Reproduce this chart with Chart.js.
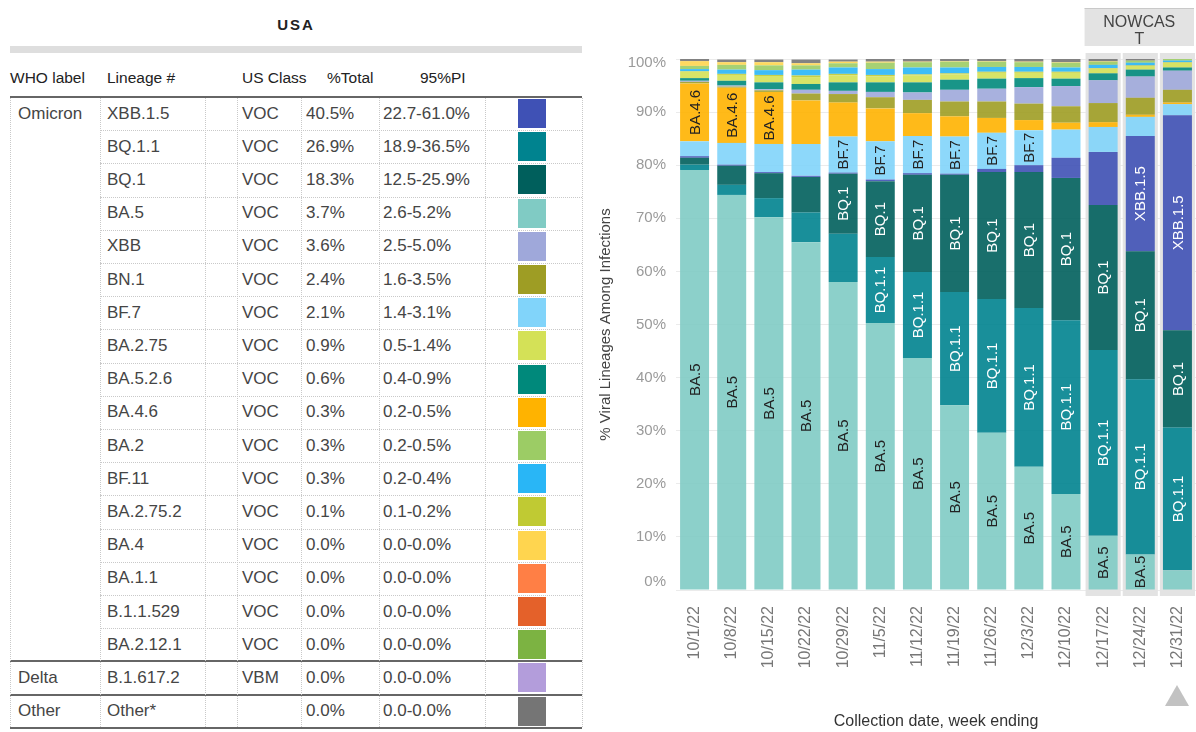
<!DOCTYPE html>
<html>
<head>
<meta charset="utf-8">
<script src="https://cdn.jsdelivr.net/npm/chart.js@4.4.1/dist/chart.umd.min.js"></script>
<style>
  body { margin: 0; background: #fff; font-family: "Liberation Sans", Arial, sans-serif; }
  #pagina { position: relative; width: 1196px; height: 732px; overflow: hidden; }
  #tabla { position: absolute; left: 0; top: 0; width: 590px; height: 732px; }
  #grafico { position: absolute; left: 590px; top: 0; }
  .t { position: absolute; white-space: nowrap; line-height: 20px; margin-top: -10px; color: #454545; font-size: 17px; }
  .h { color: #222; font-size: 15.5px; }
  .lh { position: absolute; height: 0; border-top: 1px dotted #c9c9c9; }
  .lv { position: absolute; width: 0; border-left: 1px dotted #c9c9c9; }
  .gruesa { position: absolute; height: 2px; background: #666; }
  .muestra { position: absolute; width: 28px; height: 29px; }
  #triangulo { position: absolute; left: 1165px; top: 685px; width: 0; height: 0;
    border-left: 12px solid transparent; border-right: 12px solid transparent; border-bottom: 21px solid #c2c2c2; }
</style>
</head>
<body>
<div id="pagina">
  <div id="tabla"></div>
  <canvas id="grafico" width="606" height="732"></canvas>
  <div id="triangulo"></div>
</div>
<script>
// Semanas (fecha de recolección, fin de semana)
const semanas = ['10/1/22', '10/8/22', '10/15/22', '10/22/22', '10/29/22', '11/5/22', '11/12/22',
  '11/19/22', '11/26/22', '12/3/22', '12/10/22', '12/17/22', '12/24/22', '12/31/22'];
const semanasNowcast = 3;

// Porcentaje por linaje y semana
const ba5     = [79.1, 74.4, 70.2, 65.5, 58.0, 50.3, 43.7, 34.8, 29.6, 23.2, 18.1, 10.2, 6.7, 3.7];
const bq11    = [1.0, 1.9, 3.6, 5.6, 9.1, 12.4, 16.2, 21.3, 25.2, 29.9, 32.7, 35.0, 33.0, 26.9];
const bq1     = [1.3, 3.6, 4.7, 6.7, 11.3, 14.3, 18.3, 22.1, 23.9, 25.6, 26.8, 27.3, 24.1, 18.3];
const xbb15   = [0.3, 0.2, 0.2, 0.2, 0.2, 0.3, 0.3, 0.2, 0.6, 1.3, 3.8, 10.0, 21.7, 40.5];
const bf7     = [2.8, 4.1, 5.3, 6.0, 6.8, 7.2, 7.0, 7.0, 6.8, 6.6, 5.3, 4.7, 3.6, 2.1];
const ba46    = [10.9, 10.4, 9.8, 8.2, 6.4, 6.2, 4.3, 3.8, 2.8, 1.9, 1.3, 0.9, 0.4, 0.3];
const bn1     = [0.3, 0.2, 0.3, 1.3, 1.6, 2.1, 2.5, 2.8, 3.1, 3.1, 3.1, 3.6, 3.2, 2.4];
const xbb     = [0.2, 0.2, 0.2, 0.7, 0.6, 1.0, 1.4, 2.2, 2.4, 3.1, 3.8, 4.3, 4.0, 3.6];
const ba526   = [0.5, 0.9, 1.3, 1.1, 1.6, 1.8, 1.9, 1.9, 1.9, 1.7, 1.4, 1.3, 1.3, 0.6];
const ba275   = [1.2, 1.1, 1.2, 1.3, 1.3, 1.1, 1.3, 1.0, 1.1, 1.0, 1.1, 0.9, 0.7, 0.9];
const ba2752  = [0.1, 0.2, 0.2, 0.3, 0.3, 0.3, 0.2, 0.2, 0.2, 0.2, 0.2, 0.1, 0.1, 0.1];
const bf11    = [0.4, 0.8, 0.9, 1.1, 1.2, 1.1, 1.3, 1.1, 0.9, 0.9, 0.8, 0.6, 0.5, 0.3];
const ba2     = [0.6, 0.9, 0.9, 0.8, 0.8, 1.2, 1.0, 1.1, 1.0, 0.9, 0.9, 0.6, 0.4, 0.3];
const ba4     = [0.9, 0.5, 0.6, 0.4, 0.3, 0.2, 0.1, 0.1, 0.1, 0.1, 0.1, 0.1, 0.0, 0.0];
const otros   = [0.4, 0.5, 0.5, 0.7, 0.4, 0.5, 0.5, 0.5, 0.5, 0.5, 0.6, 0.4, 0.4, 0.0];

// Marcas del eje Y
const marcasY = [0, 10, 20, 30, 40, 50, 60, 70, 80, 90, 100];

// Tabla de la izquierda
const etiquetaOMS = ['Omicron', '', '', '', '', '', '', '', '', '', '', '', '', '', '', '', '', 'Delta', 'Other'];
const linajes = ['XBB.1.5', 'BQ.1.1', 'BQ.1', 'BA.5', 'XBB', 'BN.1', 'BF.7', 'BA.2.75', 'BA.5.2.6', 'BA.4.6',
  'BA.2', 'BF.11', 'BA.2.75.2', 'BA.4', 'BA.1.1', 'B.1.1.529', 'BA.2.12.1', 'B.1.617.2', 'Other*'];
const claseUS = ['VOC', 'VOC', 'VOC', 'VOC', 'VOC', 'VOC', 'VOC', 'VOC', 'VOC', 'VOC',
  'VOC', 'VOC', 'VOC', 'VOC', 'VOC', 'VOC', 'VOC', 'VBM', ''];
const pctTotal = ['40.5%', '26.9%', '18.3%', '3.7%', '3.6%', '2.4%', '2.1%', '0.9%', '0.6%', '0.3%',
  '0.3%', '0.3%', '0.1%', '0.0%', '0.0%', '0.0%', '0.0%', '0.0%', '0.0%'];
const pi95 = ['22.7-61.0%', '18.9-36.5%', '12.5-25.9%', '2.6-5.2%', '2.5-5.0%', '1.6-3.5%', '1.4-3.1%',
  '0.5-1.4%', '0.4-0.9%', '0.2-0.5%', '0.2-0.5%', '0.2-0.4%', '0.1-0.2%', '0.0-0.0%', '0.0-0.0%',
  '0.0-0.0%', '0.0-0.0%', '0.0-0.0%', '0.0-0.0%'];
const colores = ['#3f51b5', '#00838f', '#005f5c', '#80cbc4', '#9fa8da', '#9e9d24', '#81d4fa', '#d4e157',
  '#00897b', '#ffb300', '#9ccc65', '#29b6f6', '#c0ca33', '#ffd54f', '#ff7f45', '#e4612a', '#7cb342',
  '#b39ddb', '#757575'];

// Orden de apilado (de abajo hacia arriba)
const series = [
  ['BA.5', ba5], ['BQ.1.1', bq11], ['BQ.1', bq1], ['XBB.1.5', xbb15], ['BF.7', bf7], ['BA.4.6', ba46],
  ['BN.1', bn1], ['XBB', xbb], ['BA.5.2.6', ba526], ['BA.2.75', ba275], ['BA.2.75.2', ba2752],
  ['BF.11', bf11], ['BA.2', ba2], ['BA.4', ba4], ['Other*', otros]
];
const textoClaro = ['BQ.1.1', 'BQ.1', 'XBB.1.5'];

const fuente = '"Liberation Sans", Arial, sans-serif';

function colorDe(linaje) {
  return colores[linajes.indexOf(linaje)];
}

function conAlfa(hex, a) {
  const n = parseInt(hex.slice(1), 16);
  return `rgba(${n >> 16},${(n >> 8) & 255},${n & 255},${a})`;
}

// Construir la tabla
function crearTabla() {
  const tabla = document.getElementById('tabla');
  const agregar = (html) => tabla.insertAdjacentHTML('beforeend', html);

  agregar(`<div class="t" style="left:0;width:592px;text-align:center;top:25px;font-weight:bold;font-size:15px;letter-spacing:2px;color:#222">USA</div>`);
  agregar(`<div style="position:absolute;left:10px;top:46px;width:572px;height:7px;background:#dedede"></div>`);

  const encabezados = [['WHO label', 10], ['Lineage #', 107], ['US Class', 242], ['%Total', 327], ['95%PI', 420]];
  encabezados.forEach(([txt, x]) => agregar(`<div class="t h" style="left:${x}px;top:78px">${txt}</div>`));

  const arriba = 97, alto = 33.2;
  agregar(`<div class="gruesa" style="left:10px;top:${arriba - 1}px;width:572px"></div>`);

  linajes.forEach((lin, i) => {
    const y = arriba + alto * i;
    const c = y + alto / 2;
    if (etiquetaOMS[i]) agregar(`<div class="t" style="left:18px;top:${c}px">${etiquetaOMS[i]}</div>`);
    agregar(`<div class="t" style="left:107px;top:${c}px">${lin}</div>`);
    agregar(`<div class="t" style="left:242px;top:${c}px">${claseUS[i]}</div>`);
    agregar(`<div class="t" style="left:306px;top:${c}px">${pctTotal[i]}</div>`);
    agregar(`<div class="t" style="left:383px;top:${c}px">${pi95[i]}</div>`);
    agregar(`<div class="muestra" style="left:518px;top:${y + 2}px;background:${colores[i]}"></div>`);
    if (i < 16) agregar(`<div class="lh" style="left:100px;top:${y + alto}px;width:482px"></div>`);
  });

  [17, 18, 19].forEach(i => {
    agregar(`<div class="gruesa" style="left:10px;top:${arriba + alto * i - 1}px;width:572px"></div>`);
  });

  [10, 100, 205, 237, 301, 379, 485, 582].forEach(x => {
    agregar(`<div class="lv" style="left:${x}px;top:${arriba + 1}px;height:${alto * 19 - 2}px"></div>`);
  });
}

// Etiquetas dentro de las barras
const etiquetasBarras = {
  id: 'etiquetasBarras',
  afterDatasetsDraw(chart) {
    const ctx = chart.ctx;
    ctx.save();
    ctx.font = '15px ' + fuente;
    ctx.textAlign = 'center';
    ctx.textBaseline = 'middle';
    chart.data.datasets.forEach((ds, i) => {
      chart.getDatasetMeta(i).data.forEach(barra => {
        const alto = barra.base - barra.y;
        const ancho = ctx.measureText(ds.label).width;
        if (alto < ancho + 2.5) return;
        ctx.save();
        ctx.translate(barra.x, (barra.y + barra.base) / 2);
        ctx.rotate(-Math.PI / 2);
        ctx.fillStyle = textoClaro.includes(ds.label) ? '#ffffff' : '#222222';
        ctx.fillText(ds.label, 0, 1);
        ctx.restore();
      });
    });
    ctx.restore();
  }
};

// Etiquetas del eje Y: las de los extremos se mantienen dentro del área
const etiquetasY = {
  id: 'etiquetasY',
  afterDraw(chart) {
    const { ctx, chartArea, scales: { y } } = chart;
    ctx.save();
    ctx.font = '15px ' + fuente;
    ctx.fillStyle = '#9a9a9a';
    ctx.textAlign = 'right';
    ctx.textBaseline = 'middle';
    marcasY.forEach(v => {
      const py = Math.min(Math.max(y.getPixelForValue(v), chartArea.top + 4), chartArea.bottom - 8);
      ctx.fillText(v + '%', chartArea.left - 10, py);
    });
    ctx.restore();
  }
};

// Fondo gris y encabezado NOWCAST
const nowcast = {
  id: 'nowcast',
  beforeDatasetsDraw(chart) {
    const { ctx, chartArea, scales: { x } } = chart;
    const paso = x.getPixelForValue(1) - x.getPixelForValue(0);
    const inicio = semanas.length - semanasNowcast;
    ctx.save();
    ctx.fillStyle = '#e3e3e3';
    for (let i = inicio; i < semanas.length; i++) {
      const cx = x.getPixelForValue(i);
      ctx.fillRect(cx - paso / 2 + 1, chartArea.top - 6, paso - 2, chartArea.bottom - chartArea.top + 12);
    }
    const izq = x.getPixelForValue(inicio) - paso / 2;
    const der = x.getPixelForValue(semanas.length - 1) + paso / 2 - 2;
    ctx.fillRect(izq, 8, der - izq, 38);
    ctx.fillStyle = '#c9c9c9';
    ctx.fillRect(izq, 8, der - izq, 1);
    ctx.fillStyle = '#444';
    ctx.font = '16px ' + fuente;
    ctx.textAlign = 'center';
    ctx.textBaseline = 'middle';
    ctx.fillText('NOWCAS', (izq + der) / 2, 23);
    ctx.fillText('T', (izq + der) / 2, 40);
    ctx.restore();
  }
};

crearTabla();

new Chart(document.getElementById('grafico').getContext('2d'), {
  type: 'bar',
  data: {
    labels: semanas,
    datasets: series.map(([nombre, valores]) => ({
      label: nombre,
      data: valores,
      backgroundColor: conAlfa(colorDe(nombre), 0.9),
      borderWidth: 0,
      barPercentage: 0.78,
      categoryPercentage: 1
    }))
  },
  options: {
    responsive: false,
    animation: false,
    layout: { padding: { top: 59, left: 0, right: 0, bottom: 0 } },
    plugins: { legend: { display: false }, tooltip: { enabled: false } },
    scales: {
      x: {
        stacked: true,
        grid: { display: false },
        border: { display: false },
        ticks: {
          autoSkip: false, minRotation: 90, maxRotation: 90, padding: 8,
          color: '#777', font: { family: fuente, size: 16 }
        },
        title: {
          display: true, text: 'Collection date, week ending', color: '#333',
          font: { family: fuente, size: 16 }, padding: { top: 0, bottom: 1 }
        },
        afterFit(scale) {
          scale.height = 142;
          scale.paddingLeft = 0;
          scale.paddingRight = 0;
        }
      },
      y: {
        stacked: true,
        min: 0,
        max: 100,
        grid: { color: '#ebebeb', drawTicks: false },
        border: { display: false },
        ticks: { stepSize: 10, display: false },
        title: {
          display: true, text: '% Viral Lineages Among Infections', color: '#444',
          font: { family: fuente, size: 15 }, padding: { top: 7, bottom: 0 }
        },
        afterFit(scale) { scale.width = 86; }
      }
    }
  },
  plugins: [nowcast, etiquetasBarras, etiquetasY]
});
</script>
</body>
</html>
